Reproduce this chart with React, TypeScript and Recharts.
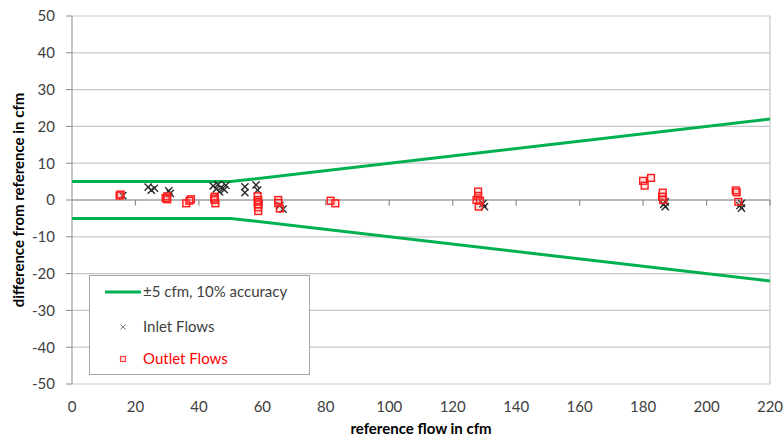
import React from 'react';
import { ScatterChart, Scatter, XAxis, YAxis, CartesianGrid, ReferenceLine } from 'recharts';

const xTicks = [0, 20, 40, 60, 80, 100, 120, 140, 160, 180, 200, 220];
const yTicks = [-50, -40, -30, -20, -10, 0, 10, 20, 30, 40, 50];

const upperLimit = [
  { x: 0, y: 5 },
  { x: 50, y: 5 },
  { x: 220, y: 22 },
];
const lowerLimit = [
  { x: 0, y: -5 },
  { x: 50, y: -5 },
  { x: 220, y: -22 },
];

const inletFlows = [
  { x: 16, y: 1.2 },
  { x: 24, y: 3.5 }, { x: 25, y: 2.7 }, { x: 26, y: 3.2 },
  { x: 30.5, y: 2.5 }, { x: 31, y: 1.8 },
  { x: 44.5, y: 3.8 }, { x: 45.5, y: 3.0 }, { x: 46, y: 4.2 }, { x: 47, y: 3.4 },
  { x: 48, y: 2.8 }, { x: 48.5, y: 4.0 }, { x: 46.5, y: 2.2 },
  { x: 54.5, y: 3.6 }, { x: 54.5, y: 2.0 },
  { x: 58, y: 4.1 }, { x: 58.5, y: 2.7 },
  { x: 66.5, y: -2.5 }, { x: 65.5, y: -1.5 },
  { x: 130, y: -1.8 }, { x: 129.5, y: -1.0 },
  { x: 187, y: -0.5 }, { x: 187, y: -1.8 }, { x: 186.5, y: -1.2 },
  { x: 211, y: -0.9 }, { x: 211, y: -2.2 }, { x: 210.5, y: -1.5 },
];

const outletFlows = [
  { x: 15, y: 1.2 }, { x: 15.3, y: 1.5 },
  { x: 29.5, y: 0.5 }, { x: 30, y: 1.0 }, { x: 30, y: 0.2 },
  { x: 36, y: -0.9 }, { x: 37.5, y: 0.2 }, { x: 37, y: -0.2 },
  { x: 45, y: 0.9 }, { x: 45, y: 0 }, { x: 45.2, y: -0.9 }, { x: 44.8, y: 0.4 },
  { x: 58.5, y: 1 }, { x: 58.7, y: 0 }, { x: 58.5, y: -0.5 }, { x: 58.8, y: -1.2 },
  { x: 58.6, y: -2 }, { x: 58.7, y: -3 },
  { x: 65, y: 0 }, { x: 65.5, y: -2.3 }, { x: 65, y: -0.8 },
  { x: 81.5, y: -0.2 }, { x: 83, y: -0.9 },
  { x: 128, y: 2.3 }, { x: 128, y: 1.1 }, { x: 127.5, y: 0 }, { x: 128.6, y: -0.2 }, { x: 128.2, y: -1.8 },
  { x: 180, y: 5.2 }, { x: 180.5, y: 3.9 }, { x: 182.5, y: 6.0 },
  { x: 186.2, y: 2.0 }, { x: 186, y: 0.9 }, { x: 186.3, y: 0 },
  { x: 209.5, y: 2.1 }, { x: 210, y: -0.5 }, { x: 209.2, y: 2.6 },
];

const FONT = 'Lato, "Open Sans", sans-serif';
const GREEN = '#00b050';
const GRID = '#c6c6c6';
const AXIS = '#8c8c8c';
const TEXT = '#404040';

const CrossShape = (props: any) => {
  const { cx, cy } = props;
  if (cx == null || cy == null) return null;
  const s = 3.6;
  return (
    <g stroke="#2a2a2a" strokeWidth={1.4}>
      <line x1={cx - s} y1={cy - s} x2={cx + s} y2={cy + s} />
      <line x1={cx - s} y1={cy + s} x2={cx + s} y2={cy - s} />
    </g>
  );
};

const SquareShape = (props: any) => {
  const { cx, cy } = props;
  if (cx == null || cy == null) return null;
  const s = 3.4;
  return (
    <rect x={cx - s} y={cy - s} width={2 * s} height={2 * s}
      fill="rgba(255,120,120,0.2)" stroke="#ff1a1a" strokeWidth={1.4} />
  );
};

const NoShape = () => null;

export default function App() {
  return (
    <div style={{ position: 'absolute', left: 0, top: 0, width: 784, height: 438, background: '#fff', fontFamily: FONT }}>
      <ScatterChart width={784} height={438} margin={{ top: 16, right: 14, bottom: 0, left: 0 }}>
        <CartesianGrid vertical={false} stroke={GRID} strokeWidth={1.2} />
        <XAxis
          type="number"
          dataKey="x"
          domain={[0, 220]}
          ticks={xTicks}
          axisLine={false}
          tickLine={false}
          height={54}
          tickMargin={11}
          tick={{ fill: TEXT, fontSize: 15, fontFamily: FONT }}
          label={{ value: 'reference flow in cfm', position: 'insideBottom', offset: 4, style: { fill: '#000', fontSize: 15, fontWeight: 'bold', fontFamily: FONT, textAnchor: 'middle' } }}
        />
        <YAxis
          type="number"
          dataKey="y"
          domain={[-50, 50]}
          ticks={yTicks}
          width={72}
          axisLine={{ stroke: AXIS }}
          tickLine={{ stroke: AXIS }}
          tickSize={6}
          tickMargin={11}
          tick={{ fill: TEXT, fontSize: 15, fontFamily: FONT }}
          label={{ value: 'difference from reference in cfm', angle: -90, position: 'insideLeft', offset: 19, style: { fill: '#000', fontSize: 15, fontWeight: 'bold', fontFamily: FONT, textAnchor: 'middle' } }}
        />
        <ReferenceLine x={220} stroke={GRID} strokeWidth={1.2} />
        <ReferenceLine y={0} stroke={AXIS} strokeWidth={1.2} />
        {xTicks.filter((t) => t > 0).map((t) => (
          <ReferenceLine key={t} segment={[{ x: t, y: 0 }, { x: t, y: -1.5 }]} stroke={AXIS} strokeWidth={1.2} />
        ))}
        <Scatter data={upperLimit} line={{ stroke: GREEN, strokeWidth: 3 }} shape={NoShape} isAnimationActive={false} />
        <Scatter data={lowerLimit} line={{ stroke: GREEN, strokeWidth: 3 }} shape={NoShape} isAnimationActive={false} />
        <Scatter data={inletFlows} shape={CrossShape} isAnimationActive={false} />
        <Scatter data={outletFlows} shape={SquareShape} isAnimationActive={false} />
      </ScatterChart>
      <div style={{ position: 'absolute', left: 89, top: 275, width: 219, height: 98, background: '#fff', border: '1px solid #a6a6a6' }}>
        <svg width={219} height={98} style={{ position: 'absolute', left: 0, top: 0 }}>
          <line x1={15} y1={16} x2={51} y2={16} stroke={GREEN} strokeWidth={3} />
          <text x={53} y={16} dy="0.35em" fontSize={15} fontFamily={FONT} fill={TEXT}>±5 cfm, 10% accuracy</text>
          <g stroke="#808080" strokeWidth={1}>
            <line x1={30.5} y1={48.5} x2={35.5} y2={53.5} />
            <line x1={30.5} y1={53.5} x2={35.5} y2={48.5} />
          </g>
          <text x={53} y={51} dy="0.35em" fontSize={15} fontFamily={FONT} fill={TEXT}>Inlet Flows</text>
          <rect x={30.5} y={80.5} width={5} height={5} fill="rgba(255,120,120,0.18)" stroke="#ff4040" strokeWidth={1.2} />
          <text x={53} y={83} dy="0.35em" fontSize={15} fontFamily={FONT} fill="#ff0000">Outlet Flows</text>
        </svg>
      </div>
    </div>
  );
}
